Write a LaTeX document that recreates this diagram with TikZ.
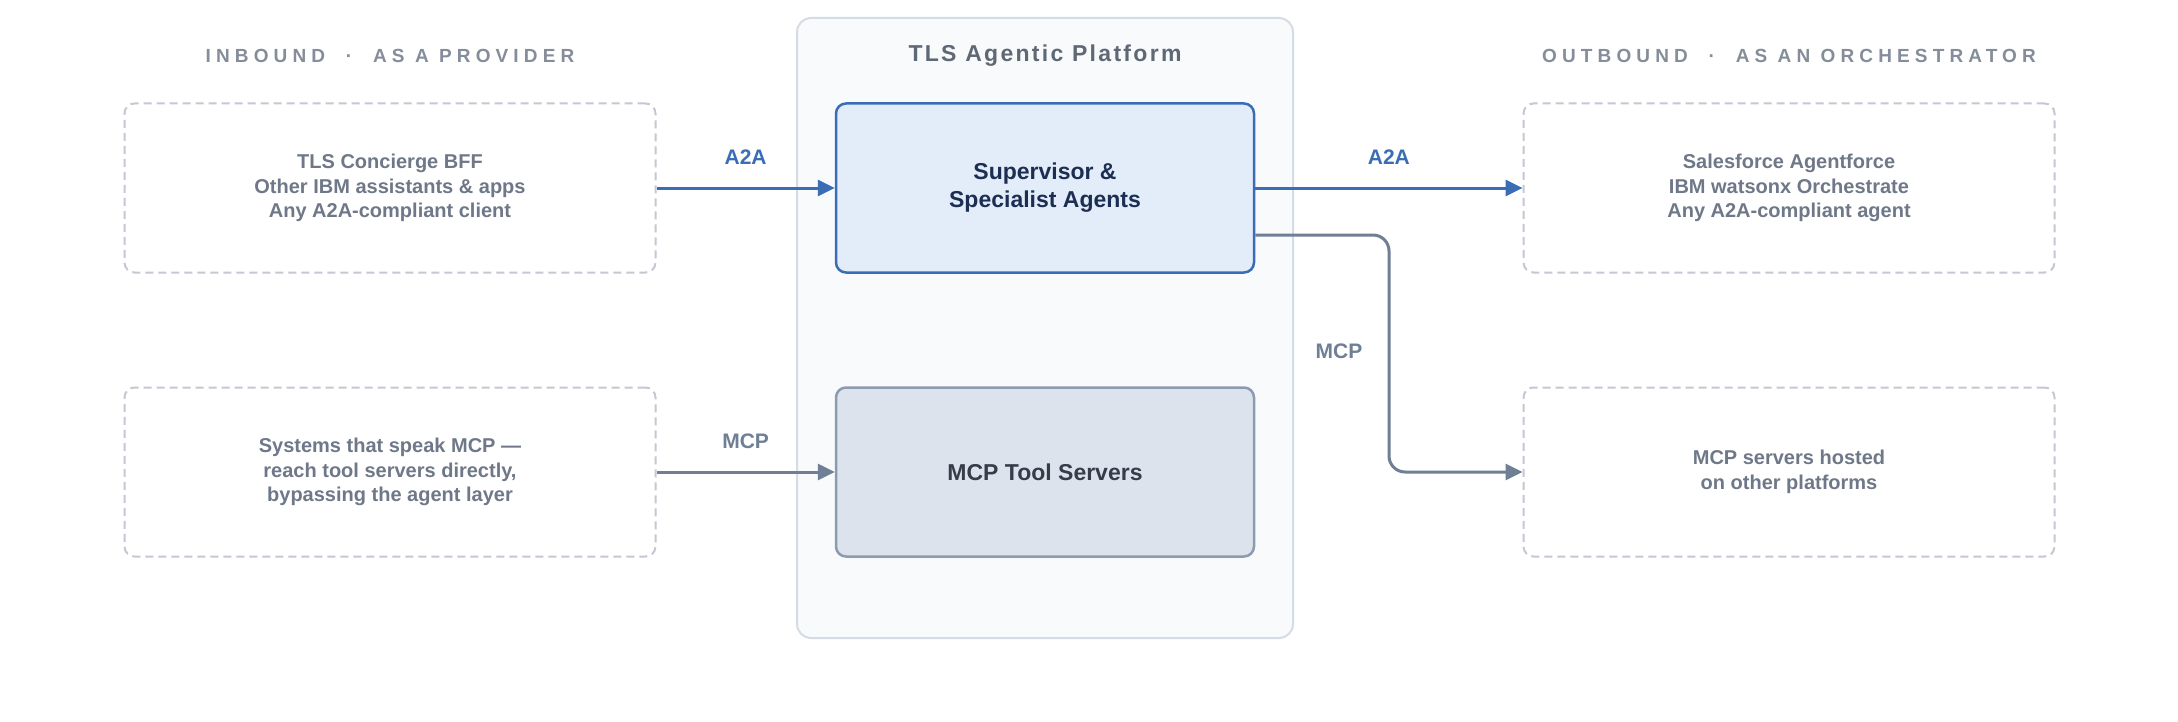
\documentclass[tikz,border=0pt]{standalone}
\usepackage{fontspec}
\setmainfont{Liberation Sans}
\usetikzlibrary{arrows.meta}

\definecolor{bordoEst}{HTML}{C3C8D2}
\definecolor{testoEst}{HTML}{6F7888}
\definecolor{bluFlusso}{HTML}{3A6DB5}
\definecolor{grigioFlusso}{HTML}{6E7F96}
\definecolor{fondoPiatt}{HTML}{F8FAFC}
\definecolor{bordoPiatt}{HTML}{D6DCE4}
\definecolor{fondoAgenti}{HTML}{E3ECF9}
\definecolor{testoAgenti}{HTML}{1C2E52}
\definecolor{fondoStrum}{HTML}{DCE3EC}
\definecolor{bordoStrum}{HTML}{8D9BB0}
\definecolor{testoStrum}{HTML}{363D4A}
\definecolor{testoInt}{HTML}{858D9A}
\definecolor{testoTit}{HTML}{5F6875}

\begin{document}
\begin{tikzpicture}[x=0.5pt, y=-0.5pt,
			esterno/.style={draw=bordoEst, line width=1pt, dash pattern=on 4pt off 2.5pt, rounded corners=5pt,
				minimum width=265.5pt, minimum height=84.5pt, align=center, text=testoEst,
				font=\fontsize{10}{12.25}\selectfont\bfseries},
			piattaforma/.style={draw=bordoPiatt, fill=fondoPiatt, line width=1pt, rounded corners=7pt,
				minimum width=248pt, minimum height=310pt},
			agenti/.style={draw=bluFlusso, fill=fondoAgenti, line width=1.25pt, rounded corners=5pt,
				minimum width=209pt, minimum height=84.5pt, align=center, text=testoAgenti,
				font=\fontsize{11.5}{14}\selectfont\bfseries},
			strumenti/.style={draw=bordoStrum, fill=fondoStrum, line width=1.25pt, rounded corners=5pt,
				minimum width=209pt, minimum height=84.5pt, align=center, text=testoStrum,
				font=\fontsize{11.5}{14}\selectfont\bfseries},
			intestazione/.style={text=testoInt, font=\fontsize{9.5}{11}\selectfont\bfseries\addfontfeature{LetterSpace=27}},
			titolo/.style={text=testoTit, font=\fontsize{11.5}{13}\selectfont\bfseries\addfontfeature{LetterSpace=10}},
			flussoA/.style={-{Triangle[length=8.5pt, width=8pt]}, line width=1.5pt, bluFlusso},
			flussoM/.style={-{Triangle[length=8.5pt, width=8pt]}, line width=1.5pt, grigioFlusso},
			etiA/.style={inner sep=0pt, text=bluFlusso, font=\fontsize{10.5}{12}\selectfont\bfseries},
			etiM/.style={inner sep=0pt, text=grigioFlusso, font=\fontsize{10.5}{12}\selectfont\bfseries},
			]
			
			\def\colL{390}    % colonna inbound
			\def\colC{1045}   % colonna piattaforma
			\def\colR{1789}   % colonna outbound
			\def\rigaA{188}   % riga A2A
			\def\rigaB{472}   % riga MCP
			
			\fill[white] (0,0) rectangle (2178,722);
			\useasboundingbox (0,0) rectangle (2178,722);
			
			%%═══ PIATTAFORMA ══════════════════════════
			\node[piattaforma] (plat) at (\colC,328) {};
			\node[titolo] (titPlat) at (\colC,56) {TLS Agentic Platform};
			\node[agenti] (sup) at (\colC,\rigaA) {Supervisor \&\\Specialist Agents};
			\node[strumenti] (tools) at (\colC,\rigaB) {MCP Tool Servers};
			
			%%═══ INBOUND — come provider ══════════════
			\node[intestazione] (hIn) at (\colL,56) {INBOUND\ \ ·\ \ AS A PROVIDER};
			\node[esterno] (inA2A) at (\colL,\rigaA) {TLS Concierge BFF\\Other IBM assistants \& apps\\Any A2A-compliant client};
			\node[esterno] (inMCP) at (\colL,\rigaB) {Systems that speak MCP —\\reach tool servers directly,\\bypassing the agent layer};
			
			%%═══ OUTBOUND — come orchestratore ════════
			\node[intestazione] (hOut) at (\colR,56) {OUTBOUND\ \ ·\ \ AS AN ORCHESTRATOR};
			\node[esterno] (outA2A) at (\colR,\rigaA) {Salesforce Agentforce\\IBM watsonx Orchestrate\\Any A2A-compliant agent};
			\node[esterno] (outMCP) at (\colR,\rigaB) {MCP servers hosted\\on other platforms};
			
			%%═══ FLUSSI ═══════════════════════════════
			\draw[flussoA] (inA2A) -- node[etiA, above=11pt] (labInA2A) {A2A} (sup);
			\draw[flussoM] (inMCP) -- node[etiM, above=11pt] (labInMCP) {MCP} (tools);
			\draw[flussoA] (sup) -- node[etiA, above=11pt] (labOutA2A) {A2A} (outA2A);
			% uscita MCP dal fianco degli agenti, gomito verso il basso
			\coordinate (gomito) at (1389,\rigaB);
			\draw[flussoM, rounded corners=8pt] ([yshift=-23.5pt]sup.east) -| (gomito) -- (outMCP.west);
			\node[etiM] (labOutMCP) at (1339,351) {MCP};
			
		\end{tikzpicture}
\end{document}
